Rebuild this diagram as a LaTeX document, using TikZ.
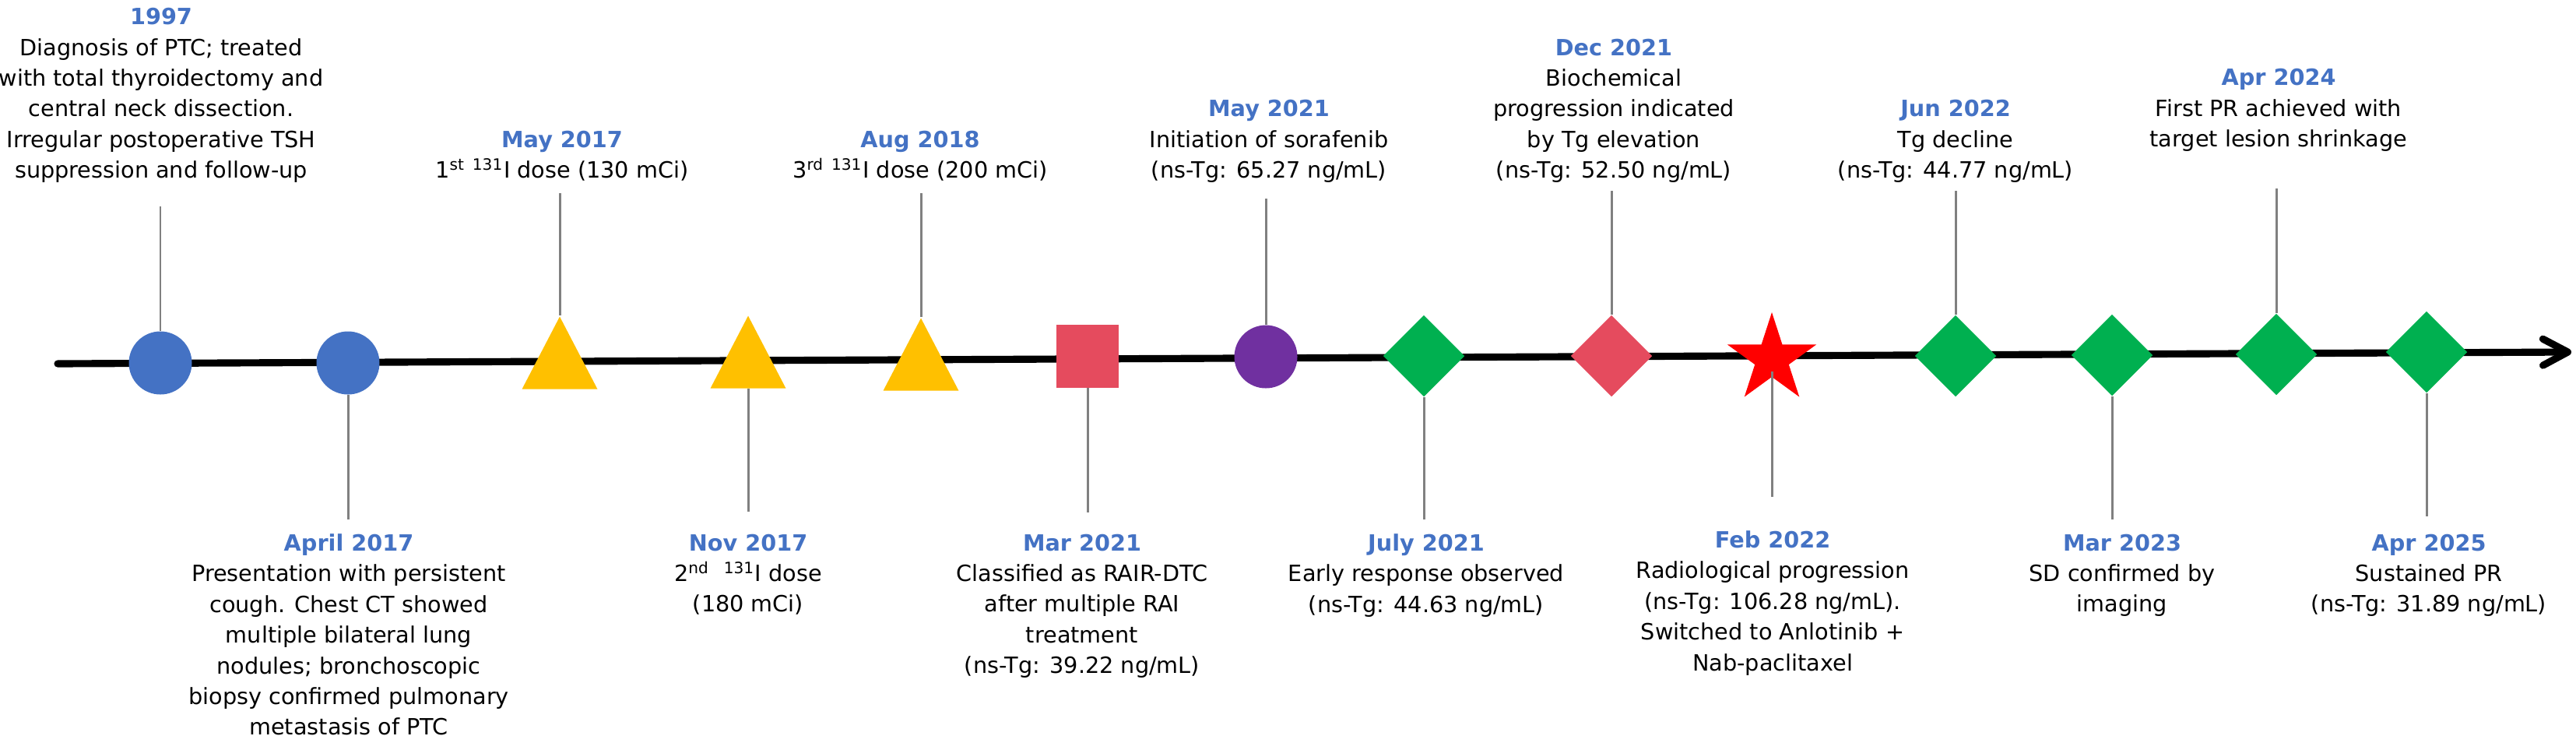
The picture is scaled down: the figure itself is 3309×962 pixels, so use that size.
\documentclass[tikz,border=0pt]{standalone}
\usepackage{fontspec}
\setmainfont{DejaVu Sans}
\usetikzlibrary{shapes.geometric,arrows.meta}

\definecolor{dateblue}{HTML}{4472C4}
\definecolor{ptblue}{HTML}{4472C4}
\definecolor{ptyellow}{HTML}{FFC000}
\definecolor{ptred}{HTML}{E54B5E}
\definecolor{ptpurple}{HTML}{7030A0}
\definecolor{ptgreen}{HTML}{00B050}
\definecolor{starred}{HTML}{FF0000}
\definecolor{stemgray}{HTML}{808080}

\newcommand{\evdate}[1]{{\color{dateblue}\bfseries #1}}

\begin{document}
\begin{tikzpicture}[x=0.1mm, y=-0.1mm,
    evtext/.style={align=center, inner sep=0pt, font=\fontsize{8.17}{11.2}\selectfont,
        execute at begin node=\strut, execute at end node=\strut},
    stem/.style={draw=stemgray, line width=0.85pt},
    evdot/.style={circle, fill=#1, inner sep=0pt, minimum size=8.1mm},
    evtri/.style={isosceles triangle, shape border rotate=90, isosceles triangle apex angle=55,
        fill=ptyellow, inner sep=0pt, minimum width=9.3mm, minimum height=9.3mm, anchor=apex},
    evdiam/.style={diamond, fill=#1, inner sep=0pt, minimum width=10.5mm, minimum height=10.5mm}]

    \useasboundingbox (0,0) rectangle (3309,962);

    % Zeitachse
    \coordinate (axstart) at (74,467);
    \coordinate (axend) at (3303,452);
    \draw[line width=2.6pt, line cap=round, -{Straight Barb[round,length=3.2mm,width=3.4mm]}] (axstart) -- (axend);

    % Marker
    \node[evdot=ptblue] (diag) at (206,466) {};
    \node[evdot=ptblue] (pres) at (447,466) {};
    \node[evtri] (dose1) at (719,405) {};
    \node[evtri] (dose2) at (961,404) {};
    \node[evtri] (dose3) at (1183,407) {};
    \node[rectangle, fill=ptred, inner sep=0pt, minimum width=8mm, minimum height=8.1mm] (rair) at (1397,457) {};
    \node[evdot=ptpurple] (sora) at (1626,458) {};
    \node[evdiam=ptgreen] (early) at (1829,457) {};
    \node[evdiam=ptred] (bioprog) at (2070,457) {};
    \node[star, star points=5, star point ratio=2.618, fill=starred, inner sep=0pt, minimum size=12mm] (radprog) at (2276,461) {};
    \node[evdiam=ptgreen] (tgdec) at (2512,457) {};
    \node[evdiam=ptgreen] (sd) at (2713,456) {};
    \node[evdiam=ptgreen] (firstpr) at (2924,455) {};
    \node[evdiam=ptgreen] (sustpr) at (3117,452) {};

    % Texte oben
    \node[evtext, anchor=south] (diagt) at (207,241) {\evdate{1997}\\Diagnosis of PTC; treated\\with total thyroidectomy and\\central neck dissection.\\Irregular postoperative TSH\\suppression and follow-up};
    \node[evtext, anchor=south] (dose1t) at (722,241) {\evdate{May 2017}\\1\textsuperscript{st} \textsuperscript{131}I dose (130 mCi)};
    \node[evtext, anchor=south] (dose3t) at (1182,241) {\evdate{Aug 2018}\\3\textsuperscript{rd} \textsuperscript{131}I dose (200 mCi)};
    \node[evtext, anchor=south] (sorat) at (1630,241) {\evdate{May 2021}\\Initiation of sorafenib\\(ns-Tg: 65.27 ng/mL)};
    \node[evtext, anchor=south] (bioprogt) at (2073,241) {\evdate{Dec 2021}\\Biochemical\\progression indicated\\by Tg elevation\\(ns-Tg: 52.50 ng/mL)};
    \node[evtext, anchor=south] (tgdect) at (2512,241) {\evdate{Jun 2022}\\Tg decline\\(ns-Tg: 44.77 ng/mL)};
    \node[evtext, anchor=south] (firstprt) at (2927,201) {\evdate{Apr 2024}\\First PR achieved with\\target lesion shrinkage};

    % Texte unten
    \node[evtext, anchor=north] (prest) at (448,685) {\evdate{April 2017}\\Presentation with persistent\\cough. Chest CT showed\\multiple bilateral lung\\nodules; bronchoscopic\\biopsy confirmed pulmonary\\metastasis of PTC};
    \node[evtext, anchor=north] (dose2t) at (961,685) {\evdate{Nov 2017}\\2\textsuperscript{nd}\ \ \textsuperscript{131}I dose\\(180 mCi)};
    \node[evtext, anchor=north] (rairt) at (1390,685) {\evdate{Mar 2021}\\Classified as RAIR-DTC\\after multiple RAI\\treatment\\(ns-Tg: 39.22 ng/mL)};
    \node[evtext, anchor=north] (earlyt) at (1832,685) {\evdate{July 2021}\\Early response observed\\(ns-Tg: 44.63 ng/mL)};
    \node[evtext, anchor=north] (radprogt) at (2277,681) {\evdate{Feb 2022}\\Radiological progression\\(ns-Tg: 106.28 ng/mL).\\Switched to Anlotinib +\\Nab-paclitaxel};
    \node[evtext, anchor=north] (sdt) at (2726,685) {\evdate{Mar 2023}\\SD confirmed by\\imaging};
    \node[evtext, anchor=north] (sustprt) at (3120,685) {\evdate{Apr 2025}\\Sustained PR\\(ns-Tg: 31.89 ng/mL)};

    % Stiele oben
    \coordinate (diagc) at (206,265);
    \coordinate (dose1c) at (719,248);
    \coordinate (dose3c) at (1183,248);
    \coordinate (sorac) at (1626,255);
    \coordinate (bioprogc) at (2070,245);
    \coordinate (tgdecc) at (2512,245);
    \coordinate (firstprc) at (2924,242);
    \draw[stem] (diagc) -- (diag);
    \draw[stem] (dose1c) -- (dose1);
    \draw[stem] (dose3c) -- (dose3);
    \draw[stem] (sorac) -- (sora);
    \draw[stem] (bioprogc) -- (bioprog);
    \draw[stem] (tgdecc) -- (tgdec);
    \draw[stem] (firstprc) -- (firstpr);

    % Stiele unten
    \coordinate (presc) at (447,667);
    \coordinate (dose2c) at (961,657);
    \coordinate (rairc) at (1397,658);
    \coordinate (earlyc) at (1829,667);
    \coordinate (radprogc) at (2276,638);
    \coordinate (sdc) at (2713,667);
    \coordinate (sustprc) at (3117,663);
    \draw[stem] (pres) -- (presc);
    \draw[stem] (dose2) -- (dose2c);
    \draw[stem] (rair) -- (rairc);
    \draw[stem] (early) -- (earlyc);
    \draw[stem] ([yshift=-1.6mm]radprog.center) -- (radprogc);
    \draw[stem] (sd) -- (sdc);
    \draw[stem] (sustpr) -- (sustprc);

\end{tikzpicture}
\end{document}
